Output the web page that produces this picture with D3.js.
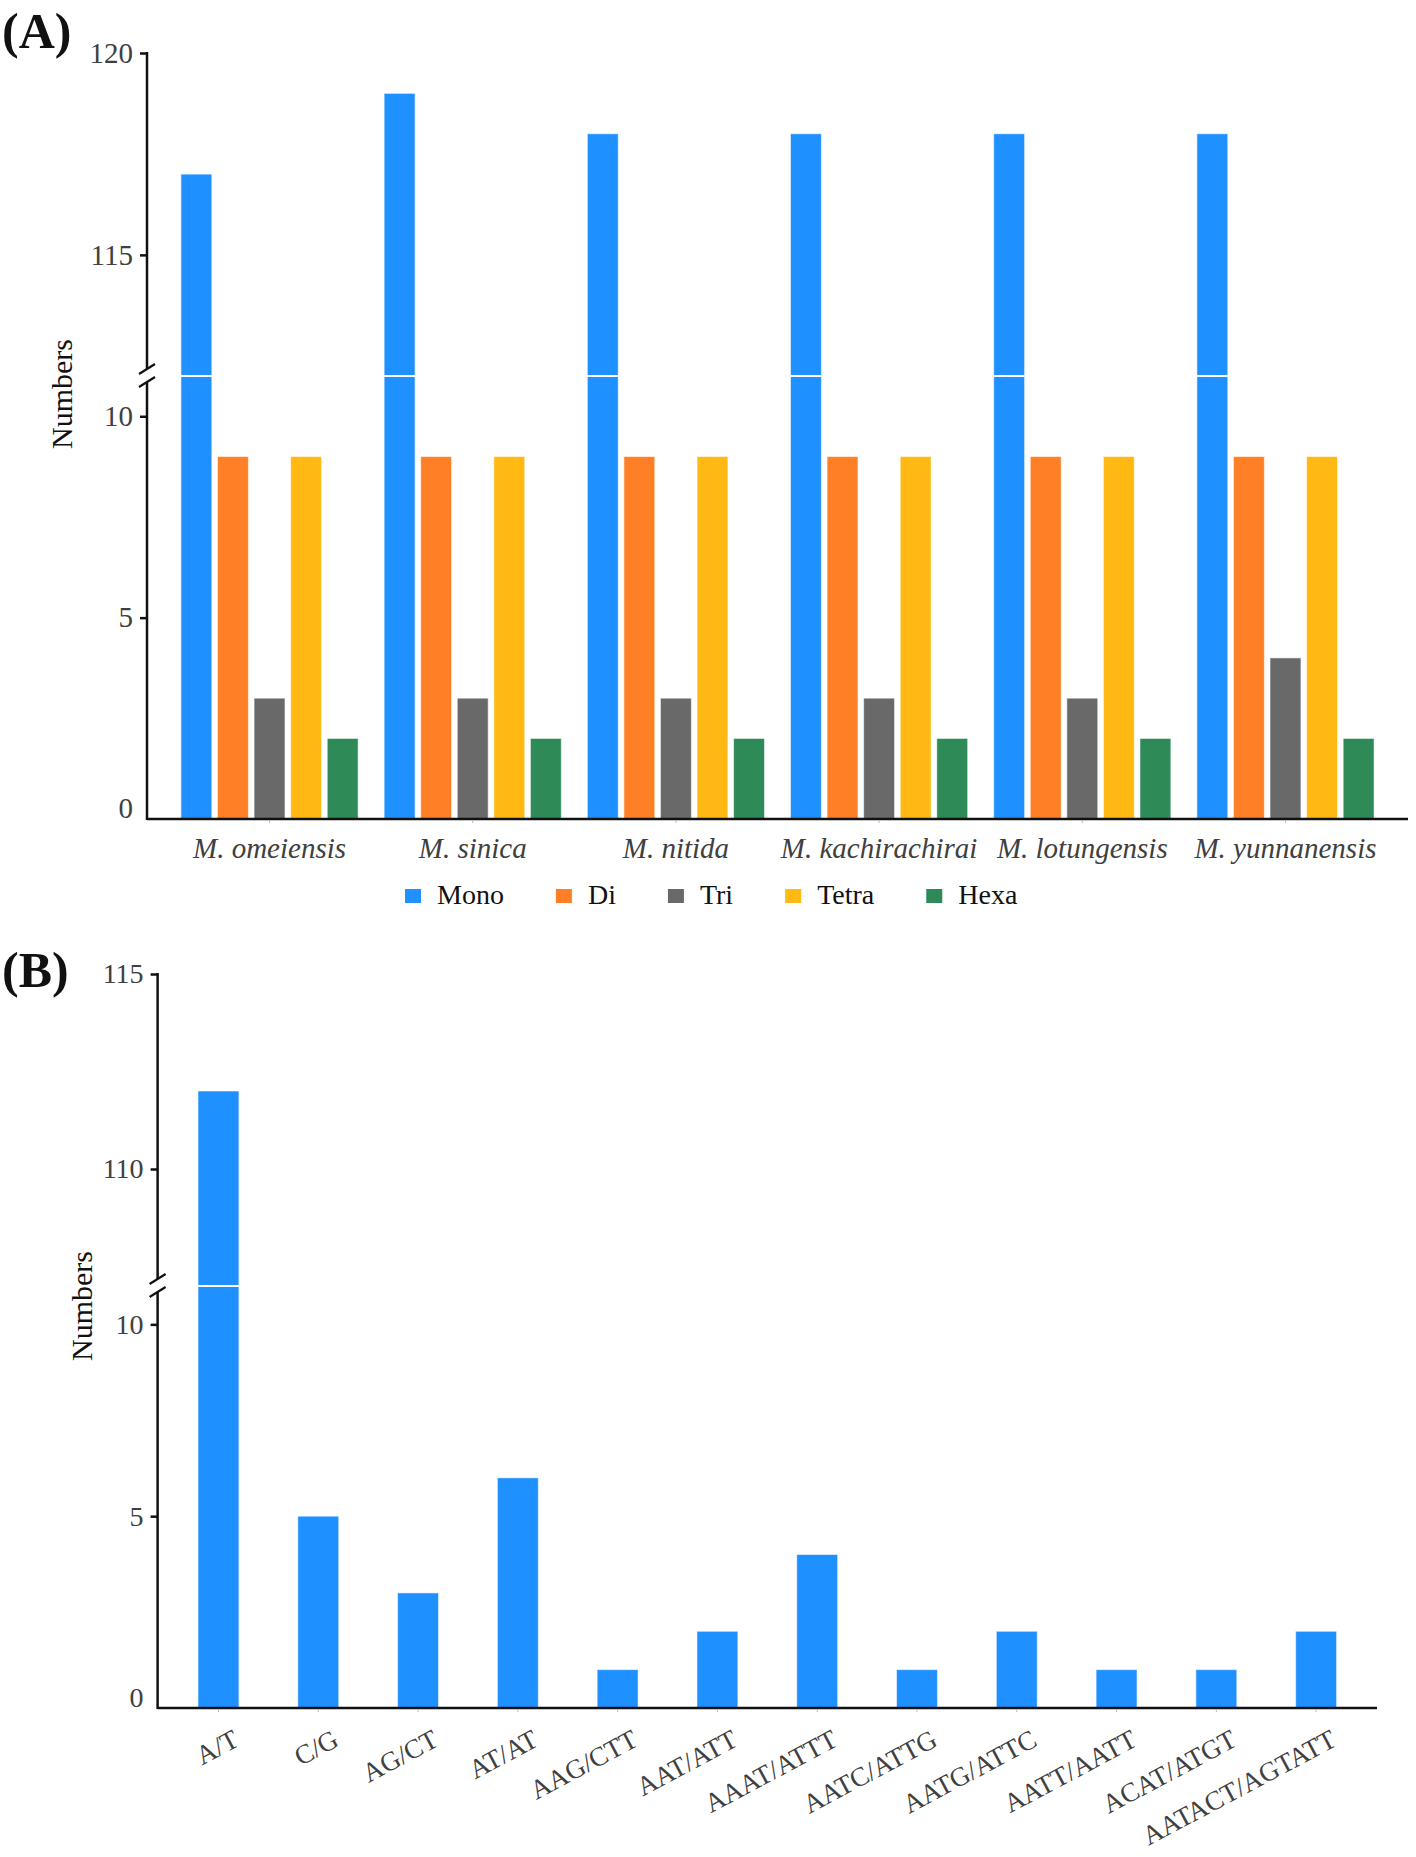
<!DOCTYPE html>
<html>
<head>
<meta charset="utf-8">
<script src="https://cdn.jsdelivr.net/npm/d3@7"></script>
<style>
  html, body { margin: 0; padding: 0; background: #fff; }
  svg { display: block; font-family: "Liberation Serif", "Times New Roman", serif; }
</style>
</head>
<body>
<svg id="chart" width="1416" height="1857"></svg>
<script>
// ---------- DATA ----------
const speciesA = ["M. omeiensis", "M. sinica", "M. nitida", "M. kachirachirai", "M. lotungensis", "M. yunnanensis"];
const seriesA = ["Mono", "Di", "Tri", "Tetra", "Hexa"];
const monoA  = [117, 119, 118, 118, 118, 118];
const diA    = [9, 9, 9, 9, 9, 9];
const triA   = [3, 3, 3, 3, 3, 4];
const tetraA = [9, 9, 9, 9, 9, 9];
const hexaA  = [2, 2, 2, 2, 2, 2];
const ticksA = [0, 5, 10, 115, 120];

const motifsB = ["A/T", "C/G", "AG/CT", "AT/AT", "AAG/CTT", "AAT/ATT", "AAAT/ATTT", "AATC/ATTG", "AATG/ATTC", "AATT/AATT", "ACAT/ATGT", "AATACT/AGTATT"];
const countsB = [112, 5, 3, 6, 1, 2, 4, 1, 2, 1, 1, 2];
const ticksB = [0, 5, 10, 110, 115];

// ---------- STYLE ----------
const colors = { Mono: "#1E90FF", Di: "#FF7F27", Tri: "#696969", Tetra: "#FFB912", Hexa: "#2E8B57" };
const tickColor = "#404040";
const svg = d3.select("#chart");
const valuesA = { Mono: monoA, Di: diA, Tri: triA, Tetra: tetraA, Hexa: hexaA };

// broken-axis helper
function brokenAxis(g, x, yTop, yBreak, yBase, scale, ticks, fs) {
  const ax = g.append("g").attr("transform", `translate(${x},0)`)
    .call(d3.axisLeft(scale).tickValues(ticks).tickSize(7).tickPadding(7).tickFormat(d3.format("d")));
  ax.select(".domain").remove();
  ax.selectAll(".tick line").attr("stroke", "#111").attr("stroke-width", 2.5);
  ax.selectAll(".tick text").attr("fill", tickColor).attr("font-size", fs)
    .attr("font-family", "Liberation Serif, Times New Roman, serif")
    .attr("dy", (d) => d === 0 ? "-0.05em" : "0.32em");
  ax.selectAll(".tick").filter(d => d === 0).select("line").remove();
  const a1 = yBreak - 7, a2 = yBreak + 6;
  g.append("line").attr("x1", x).attr("x2", x).attr("y1", yTop - 1).attr("y2", a1)
    .attr("stroke", "#111").attr("stroke-width", 2.5);
  g.append("line").attr("x1", x).attr("x2", x).attr("y1", a2).attr("y2", yBase + 1)
    .attr("stroke", "#111").attr("stroke-width", 2.5);
  [a1, a2].forEach(yy => {
    g.append("line").attr("x1", x - 8).attr("x2", x + 8).attr("y1", yy + 5).attr("y2", yy - 5)
      .attr("stroke", "#111").attr("stroke-width", 2.2);
  });
}

// ---------- PANEL A ----------
{
  const left = 147, right = 1408, base = 819, brk = 376, top = 53;
  const y = d3.scaleLinear().domain([0, 11, 112, 120]).range([base, brk, brk, top]);
  const x0 = d3.scaleBand().domain(speciesA).range([left, right]).paddingInner(0.128).paddingOuter(0.167);
  const x1 = d3.scaleBand().domain(seriesA).range([0, x0.bandwidth()]).paddingInner(0.155).paddingOuter(0);
  const g = svg.append("g");

  const groups = g.selectAll("g.grp").data(speciesA).join("g")
    .attr("transform", d => `translate(${x0(d)},0)`);
  groups.selectAll("rect").data((d, i) => seriesA.map(s => ({ s, v: valuesA[s][i] }))).join("rect")
    .attr("x", d => x1(d.s)).attr("width", x1.bandwidth())
    .attr("y", d => y(d.v)).attr("height", d => y(0) - y(d.v))
    .attr("fill", d => colors[d.s])
    .attr("stroke", "rgba(255,255,255,0.55)").attr("stroke-width", 1);
  // break gap on tall bars
  groups.selectAll("line.gap").data((d, i) => seriesA.map(s => ({ s, v: valuesA[s][i] })).filter(o => o.v > 11)).join("line")
    .attr("x1", d => x1(d.s)).attr("x2", d => x1(d.s) + x1.bandwidth())
    .attr("y1", brk).attr("y2", brk).attr("stroke", "#fff").attr("stroke-width", 2);

  // baseline
  g.append("line").attr("x1", left).attr("x2", right).attr("y1", base).attr("y2", base)
    .attr("stroke", "#111").attr("stroke-width", 2.5);
  // small x ticks
  g.selectAll("line.xt").data(speciesA).join("line")
    .attr("x1", d => x0(d) + x0.bandwidth() / 2).attr("x2", d => x0(d) + x0.bandwidth() / 2)
    .attr("y1", base + 1).attr("y2", base + 4).attr("stroke", "#bbb").attr("stroke-width", 1);
  // species labels
  g.selectAll("text.sp").data(speciesA).join("text")
    .attr("x", d => x0(d) + x0.bandwidth() / 2).attr("y", 858)
    .attr("text-anchor", "middle").attr("font-style", "italic").attr("font-size", 29)
    .attr("fill", tickColor).text(d => d);

  brokenAxis(g, left, top, brk, base, y, ticksA, 29);

  g.append("text").attr("transform", `translate(72,394) rotate(-90)`).attr("text-anchor", "middle")
    .attr("font-size", 30).attr("fill", "#111").text("Numbers");
  g.append("text").attr("x", 2).attr("y", 48).attr("font-size", 50).attr("font-weight", "bold")
    .attr("fill", "#111").text("(A)");

  // legend
  const lg = g.append("g");
  let lx = 405;
  seriesA.forEach(s => {
    lg.append("rect").attr("x", lx).attr("y", 889).attr("width", 16).attr("height", 14).attr("fill", colors[s]);
    const t = lg.append("text").attr("x", lx + 32).attr("y", 904).attr("font-size", 28).attr("fill", "#111").text(s);
    lx = lx + 32 + t.node().getComputedTextLength() + 52;
  });
}

// ---------- PANEL B ----------
{
  const left = 157.6, right = 1377, base = 1708, brk = 1286, top = 974;
  const y = d3.scaleLinear().domain([0, 11, 107, 115]).range([base, brk, brk, top]);
  const x = d3.scaleBand().domain(motifsB).range([left, right]).paddingInner(0.59).paddingOuter(0.405);
  const g = svg.append("g");

  g.selectAll("rect.bar").data(motifsB).join("rect")
    .attr("x", d => x(d)).attr("width", x.bandwidth())
    .attr("y", (d, i) => y(countsB[i])).attr("height", (d, i) => y(0) - y(countsB[i]))
    .attr("fill", colors.Mono).attr("stroke", "rgba(255,255,255,0.55)").attr("stroke-width", 1);
  g.selectAll("line.gap").data(motifsB.filter((d, i) => countsB[i] > 11)).join("line")
    .attr("x1", d => x(d)).attr("x2", d => x(d) + x.bandwidth())
    .attr("y1", brk).attr("y2", brk).attr("stroke", "#fff").attr("stroke-width", 2);

  g.append("line").attr("x1", left).attr("x2", right).attr("y1", base).attr("y2", base)
    .attr("stroke", "#111").attr("stroke-width", 2.5);
  g.selectAll("line.xt").data(motifsB).join("line")
    .attr("x1", d => x(d) + x.bandwidth() / 2).attr("x2", d => x(d) + x.bandwidth() / 2)
    .attr("y1", base + 1).attr("y2", base + 4).attr("stroke", "#bbb").attr("stroke-width", 1);

  g.selectAll("text.mt").data(motifsB).join("text")
    .attr("transform", d => `translate(${x(d) + x.bandwidth() / 2 + 22},${base + 37}) rotate(-28)`)
    .attr("text-anchor", "end").attr("font-size", 27).attr("fill", tickColor).text(d => d);

  brokenAxis(g, left, top, brk, base, y, ticksB, 28);

  g.append("text").attr("transform", `translate(92,1306) rotate(-90)`).attr("text-anchor", "middle")
    .attr("font-size", 30).attr("fill", "#111").text("Numbers");
  g.append("text").attr("x", 2).attr("y", 987).attr("font-size", 50).attr("font-weight", "bold")
    .attr("fill", "#111").text("(B)");
}
</script>
</body>
</html>
